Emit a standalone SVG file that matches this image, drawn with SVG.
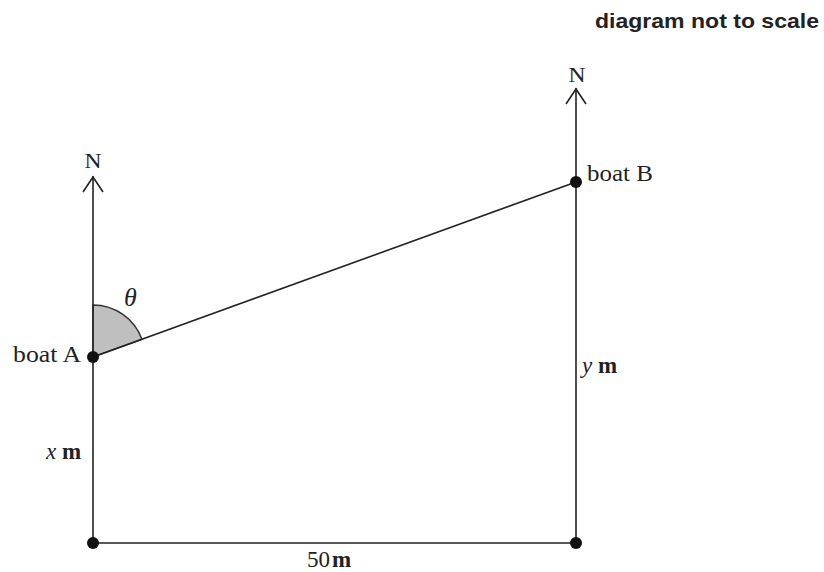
<svg xmlns="http://www.w3.org/2000/svg" width="824" height="572" viewBox="0 0 824 572">
  <style>
    .ln { stroke: #222; stroke-width: 1.6; fill: none; }
    .dot { fill: #111; }
    .lbl { font-family: "Liberation Serif", "Times New Roman", serif; font-size: 23px; fill: #222; }
    .n { font-family: "Liberation Serif", "Times New Roman", serif; font-size: 21px; fill: #222; }
    .it { font-style: italic; }
    .b { font-weight: bold; }
    .note { font-family: "Liberation Sans", Arial, sans-serif; font-size: 21px; font-weight: bold; fill: #222; }
  </style>
  <rect width="824" height="572" fill="#fff"/>
  <text class="note" x="595" y="28" textLength="224" lengthAdjust="spacingAndGlyphs">diagram not to scale</text>
  <g id="angle">
    <path d="M93,357 L93,305 A52,52 0 0 1 141.9,339.3 Z" fill="#bfbfbf" stroke="#333" stroke-width="1.4"/>
    <text class="lbl it" x="124" y="306" style="font-size:26px">θ</text>
  </g>
  <g id="connectors">
    <line class="ln" x1="93" y1="176" x2="93" y2="543"/>
    <polyline class="ln" points="83,192 93,177 103,192"/>
    <line class="ln" x1="576" y1="88" x2="576" y2="543"/>
    <polyline class="ln" points="566,104 576,89 586,104"/>
    <line class="ln" x1="93" y1="543" x2="576" y2="543"/>
    <line class="ln" x1="93" y1="357" x2="576" y2="182"/>
  </g>
  <g id="north-A"><text class="n" x="93" y="168" text-anchor="middle" textLength="17" lengthAdjust="spacingAndGlyphs">N</text></g>
  <g id="north-B"><text class="n" x="577" y="82" text-anchor="middle" textLength="17" lengthAdjust="spacingAndGlyphs">N</text></g>
  <g id="boatA">
    <circle class="dot" cx="93" cy="357" r="6"/>
    <text class="lbl" x="13" y="362" textLength="68" lengthAdjust="spacingAndGlyphs">boat A</text>
  </g>
  <g id="boatB">
    <circle class="dot" cx="576" cy="182" r="6"/>
    <text class="lbl" x="587" y="181" textLength="66" lengthAdjust="spacingAndGlyphs">boat B</text>
  </g>
  <g id="cornerL"><circle class="dot" cx="93" cy="543" r="6"/></g>
  <g id="cornerR"><circle class="dot" cx="576" cy="543" r="6"/></g>
  <g id="labels">
    <text class="lbl" x="46" y="459"><tspan class="it">x</tspan> <tspan class="b">m</tspan></text>
    <text class="lbl" x="582" y="373"><tspan class="it">y</tspan> <tspan class="b">m</tspan></text>
    <text class="lbl" x="307" y="567">50<tspan class="b" dx="2">m</tspan></text>
  </g>
</svg>
